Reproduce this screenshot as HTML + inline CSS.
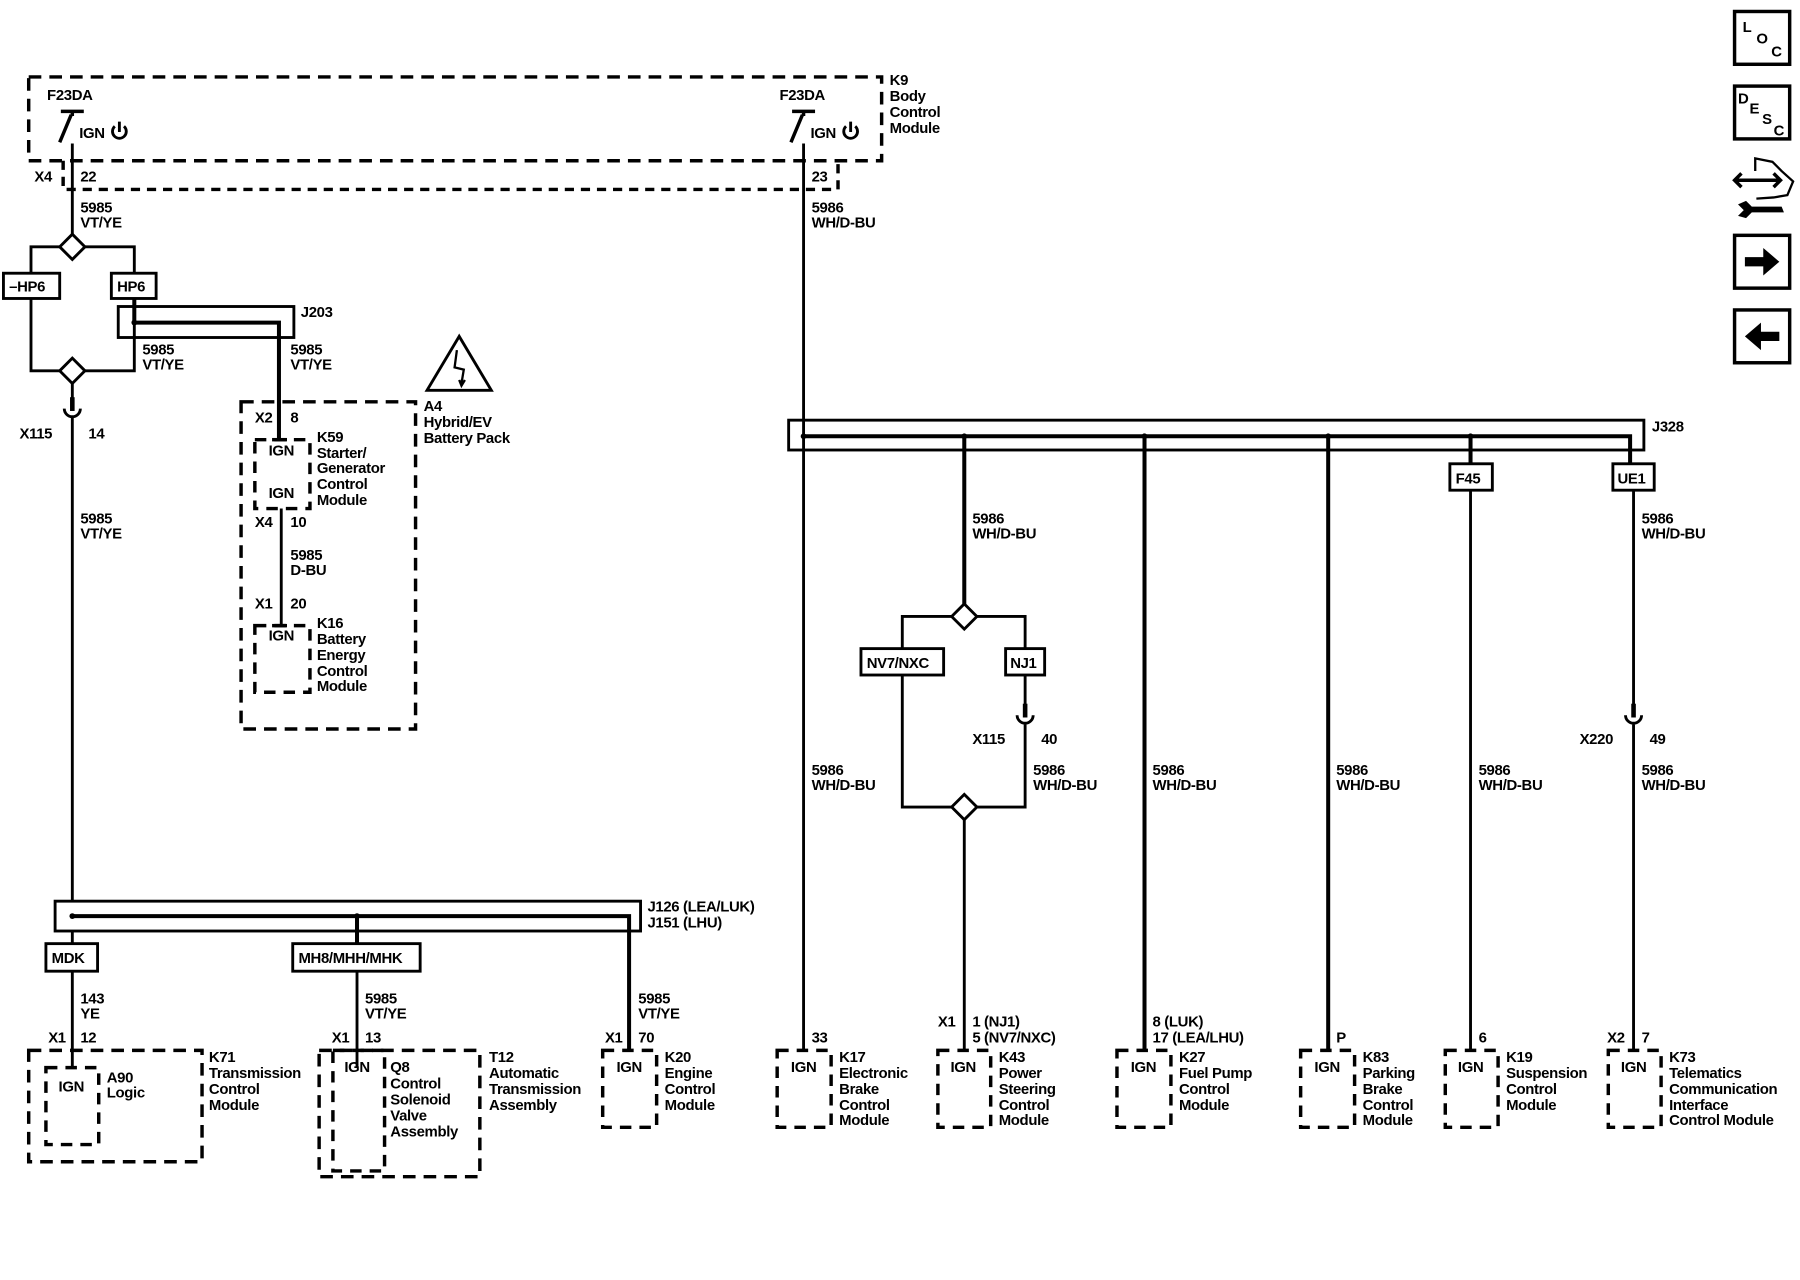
<!DOCTYPE html>
<html><head><meta charset="utf-8"><style>
html,body{margin:0;padding:0;background:#fff}
svg{display:block}
text{font-family:"Liberation Sans",sans-serif;font-size:13px;font-weight:bold;fill:#000;letter-spacing:-0.3px}
.w{stroke:#000;stroke-width:2.5;fill:none}
.d{stroke:#000;stroke-width:3;fill:none;stroke-dasharray:11 7}
.b{stroke:#000;stroke-width:2.5;fill:#fff}
</style></head><body>
<svg width="1800" height="1280" viewBox="0 0 1568 1115" preserveAspectRatio="none" xmlns="http://www.w3.org/2000/svg">
<rect class="d" x="25" y="67" width="743" height="73"/>
<path class="d" d="M55 140V165H730V140" style="stroke-dasharray:8 6"/>
<text x="775" y="74">K9</text><text x="775" y="88">Body</text><text x="775" y="102">Control</text><text x="775" y="116">Module</text>
<g>
<path class="w" d="M53 97H73M63 97V101M62 100L52 124" style="stroke-width:3"/>
<text x="41" y="87">F23DA</text><text x="69" y="120">IGN</text>
<path class="w" d="M100 110A6 6 0 1 0 108 110M104 106V115"/>
</g>
<g>
<path class="w" d="M690 97H710M700 97V101M699 100L689 124" style="stroke-width:3"/>
<text x="679" y="87">F23DA</text><text x="706" y="120">IGN</text>
<path class="w" d="M737 110A6 6 0 1 0 745 110M741 106V115"/>
</g>
<text x="30" y="158">X4</text><text x="70" y="158">22</text>
<text x="707" y="158">23</text>
<text x="70" y="185">5985</text><text x="70" y="198">VT/YE</text>
<text x="707" y="185">5986</text><text x="707" y="198">WH/D-BU</text>
<path class="w" d="M63 125V204"/>
<path class="b" d="M63 204L74 215L63 226L52 215Z"/>
<path class="w" d="M52 215H27V238M74 215H117V238"/>
<rect class="b" x="3" y="238" width="49" height="22"/><text x="8" y="254">–HP6</text>
<rect class="b" x="97" y="238" width="39" height="22"/><text x="102" y="254">HP6</text>
<path class="w" d="M27 260V323H52M117 260V323H74"/>
<path class="b" d="M63 312L74 323L63 334L52 323Z"/>
<path class="w" d="M63 334V348"/>
<rect x="61" y="346" width="4" height="12" fill="#000"/>
<path class="w" d="M56 356A7 7 0 0 0 70 356"/>
<path class="w" d="M63 363V785"/>
<text x="17" y="382">X115</text><text x="77" y="382">14</text>
<text x="70" y="456">5985</text><text x="70" y="469">VT/YE</text>
<rect class="w" x="103" y="267" width="153" height="27"/>
<path class="w" d="M117 260V281M117 281H243V383" style="stroke-width:3.5"/>
<circle cx="117" cy="281" r="2.5"/>
<text x="262" y="276">J203</text>
<text x="124" y="309">5985</text><text x="124" y="322">VT/YE</text>
<text x="253" y="309">5985</text><text x="253" y="322">VT/YE</text>
<path class="w" d="M400 293L372 340H428Z"/>
<path d="M398 305L396 320L404 322L402 334M400 331L402 336L405 331" class="w" style="stroke-width:2"/>
<rect class="d" x="210" y="350" width="152" height="285"/>
<text x="369" y="358">A4</text><text x="369" y="372">Hybrid/EV</text><text x="369" y="386">Battery Pack</text>
<text x="222" y="368">X2</text><text x="253" y="368">8</text>
<rect class="d" x="222" y="383" width="48" height="60" style="stroke-dasharray:10 7"/>
<path class="w" d="M237 383H250" style="stroke-width:3"/>
<text x="234" y="397">IGN</text><text x="234" y="434">IGN</text>
<text x="276" y="385">K59</text><text x="276" y="399">Starter/</text><text x="276" y="412">Generator</text>
<text x="276" y="426">Control</text><text x="276" y="440">Module</text>
<path class="w" d="M245 443V545"/>
<text x="222" y="459">X4</text><text x="253" y="459">10</text>
<text x="253" y="488">5985</text><text x="253" y="501">D-BU</text>
<text x="222" y="530">X1</text><text x="253" y="530">20</text>
<rect class="d" x="222" y="545" width="48" height="58" style="stroke-dasharray:10 7"/>
<path class="w" d="M237 545H250" style="stroke-width:3"/>
<text x="234" y="558">IGN</text>
<text x="276" y="547">K16</text><text x="276" y="561">Battery</text><text x="276" y="575">Energy</text><text x="276" y="589">Control</text><text x="276" y="602">Module</text>
<rect class="w" x="48" y="785" width="510" height="26"/>
<path class="w" d="M63 798H548V915M311 798V822" style="stroke-width:3.5"/>
<circle cx="63" cy="798" r="2.5"/><circle cx="311" cy="798" r="2.5"/>
<text x="564" y="794">J126 (LEA/LUK)</text><text x="564" y="808">J151 (LHU)</text>
<path class="w" d="M63 811V822M63 846V930M311 846V930"/>
<rect class="b" x="40" y="822" width="45" height="24"/><text x="45" y="839">MDK</text>
<rect class="b" x="255" y="822" width="111" height="24"/><text x="260" y="839">MH8/MHH/MHK</text>
<text x="70" y="874">143</text><text x="70" y="887">YE</text>
<text x="318" y="874">5985</text><text x="318" y="887">VT/YE</text>
<text x="556" y="874">5985</text><text x="556" y="887">VT/YE</text>
<text x="42" y="908">X1</text><text x="70" y="908">12</text>
<text x="289" y="908">X1</text><text x="318" y="908">13</text>
<text x="527" y="908">X1</text><text x="556" y="908">70</text>
<rect class="d" x="25" y="915" width="151" height="97"/>
<rect class="d" x="40" y="930" width="46" height="67" style="stroke-dasharray:10 7"/>
<text x="51" y="951">IGN</text>
<text x="93" y="943">A90</text><text x="93" y="956">Logic</text>
<text x="182" y="925">K71</text><text x="182" y="939">Transmission</text><text x="182" y="953">Control</text><text x="182" y="967">Module</text>
<rect class="d" x="278" y="915" width="140" height="110"/>
<rect class="d" x="290" y="915" width="45" height="105" style="stroke-dasharray:10 7"/>
<text x="300" y="934">IGN</text>
<text x="340" y="934">Q8</text><text x="340" y="948">Control</text><text x="340" y="962">Solenoid</text><text x="340" y="976">Valve</text><text x="340" y="990">Assembly</text>
<text x="426" y="925">T12</text><text x="426" y="939">Automatic</text><text x="426" y="953">Transmission</text><text x="426" y="967">Assembly</text>
<path class="w" d="M700 125V915"/>
<rect class="w" x="687" y="366" width="745" height="26"/>
<path class="w" d="M700 380H1420V404M840 380V526M997 380V915M1157 380V915M1281 380V404" style="stroke-width:3.5"/>
<circle cx="700" cy="380" r="2.5"/><circle cx="840" cy="380" r="2.5"/><circle cx="997" cy="380" r="2.5"/><circle cx="1157" cy="380" r="2.5"/><circle cx="1281" cy="380" r="2.5"/>
<text x="1439" y="376">J328</text>
<rect class="b" x="1263" y="404" width="37" height="23"/><text x="1268" y="421">F45</text>
<rect class="b" x="1405" y="404" width="36" height="23"/><text x="1409" y="421">UE1</text>
<path class="w" d="M1281 427V915M1423 427V615"/>
<rect x="1421" y="613" width="4" height="12" fill="#000"/>
<path class="w" d="M1416 623A7 7 0 0 0 1430 623M1423 630V915"/>
<text x="1376" y="648">X220</text><text x="1437" y="648">49</text>
<text x="1430" y="456">5986</text><text x="1430" y="469">WH/D-BU</text>
<text x="847" y="456">5986</text><text x="847" y="469">WH/D-BU</text>
<path class="b" d="M840 526L851 537L840 548L829 537Z"/>
<path class="w" d="M829 537H786V565M851 537H893V565"/>
<rect class="b" x="750" y="565" width="72" height="23"/><text x="755" y="582">NV7/NXC</text>
<rect class="b" x="876" y="565" width="34" height="23"/><text x="880" y="582">NJ1</text>
<path class="w" d="M786 588V703H829M893 588V615"/>
<rect x="891" y="613" width="4" height="12" fill="#000"/>
<path class="w" d="M886 623A7 7 0 0 0 900 623M893 630V703H851"/>
<text x="847" y="648">X115</text><text x="907" y="648">40</text>
<path class="b" d="M840 692L851 703L840 714L829 703Z"/>
<path class="w" d="M840 714V915"/>
<g>
<text x="707" y="675">5986</text><text x="707" y="688">WH/D-BU</text>
<text x="900" y="675">5986</text><text x="900" y="688">WH/D-BU</text>
<text x="1004" y="675">5986</text><text x="1004" y="688">WH/D-BU</text>
<text x="1164" y="675">5986</text><text x="1164" y="688">WH/D-BU</text>
<text x="1288" y="675">5986</text><text x="1288" y="688">WH/D-BU</text>
<text x="1430" y="675">5986</text><text x="1430" y="688">WH/D-BU</text>
</g>
<text x="707" y="908">33</text>
<text x="817" y="894">X1</text><text x="847" y="894">1 (NJ1)</text><text x="847" y="908">5 (NV7/NXC)</text>
<text x="1004" y="894">8 (LUK)</text><text x="1004" y="908">17 (LEA/LHU)</text>
<text x="1164" y="908">P</text>
<text x="1288" y="908">6</text>
<text x="1400" y="908">X2</text><text x="1430" y="908">7</text>
<rect class="d" x="525" y="915" width="47" height="67" style="stroke-dasharray:10 7"/>
<rect class="d" x="677" y="915" width="47" height="67" style="stroke-dasharray:10 7"/>
<rect class="d" x="817" y="915" width="46" height="67" style="stroke-dasharray:10 7"/>
<rect class="d" x="973" y="915" width="47" height="67" style="stroke-dasharray:10 7"/>
<rect class="d" x="1133" y="915" width="47" height="67" style="stroke-dasharray:10 7"/>
<rect class="d" x="1259" y="915" width="46" height="67" style="stroke-dasharray:10 7"/>
<rect class="d" x="1401" y="915" width="46" height="67" style="stroke-dasharray:10 7"/>
<text x="537" y="934">IGN</text><text x="689" y="934">IGN</text><text x="828" y="934">IGN</text><text x="985" y="934">IGN</text><text x="1145" y="934">IGN</text><text x="1270" y="934">IGN</text><text x="1412" y="934">IGN</text>
<text x="579" y="925">K20</text><text x="579" y="939">Engine</text><text x="579" y="953">Control</text><text x="579" y="967">Module</text>
<text x="731" y="925">K17</text><text x="731" y="939">Electronic</text><text x="731" y="953">Brake</text><text x="731" y="967">Control</text><text x="731" y="980">Module</text>
<text x="870" y="925">K43</text><text x="870" y="939">Power</text><text x="870" y="953">Steering</text><text x="870" y="967">Control</text><text x="870" y="980">Module</text>
<text x="1027" y="925">K27</text><text x="1027" y="939">Fuel Pump</text><text x="1027" y="953">Control</text><text x="1027" y="967">Module</text>
<text x="1187" y="925">K83</text><text x="1187" y="939">Parking</text><text x="1187" y="953">Brake</text><text x="1187" y="967">Control</text><text x="1187" y="980">Module</text>
<text x="1312" y="925">K19</text><text x="1312" y="939">Suspension</text><text x="1312" y="953">Control</text><text x="1312" y="967">Module</text>
<text x="1454" y="925">K73</text><text x="1454" y="939">Telematics</text><text x="1454" y="953">Communication</text><text x="1454" y="967">Interface</text><text x="1454" y="980">Control Module</text>
<rect class="w" x="1511" y="10" width="48" height="46" style="stroke-width:3"/>
<text x="1518" y="28">L</text><text x="1530" y="38">O</text><text x="1543" y="49">C</text>
<rect class="w" x="1511" y="75" width="48" height="46" style="stroke-width:3"/>
<text x="1514" y="90">D</text><text x="1524" y="99">E</text><text x="1535" y="108">S</text><text x="1545" y="118">C</text>
<path class="w" d="M1512 157H1550M1517 151L1511 157L1517 163M1545 151L1551 157L1545 163" style="stroke-width:3"/>
<path class="w" d="M1529 149V138L1544 141L1552 149L1562 158L1557 170L1545 172L1530 173" style="stroke-width:2"/>
<path d="M1514 178L1521 175L1526 180H1552L1554 185H1526L1521 190L1514 188L1519 183Z" fill="#000"/>
<rect class="w" x="1511" y="205" width="48" height="46" style="stroke-width:3"/>
<path d="M1520 224H1536V216L1550 228L1536 240V232H1520Z" fill="#000"/>
<rect class="w" x="1511" y="270" width="48" height="46" style="stroke-width:3"/>
<path d="M1550 289H1534V281L1520 293L1534 305V297H1550Z" fill="#000"/>
</svg>
</body></html>
